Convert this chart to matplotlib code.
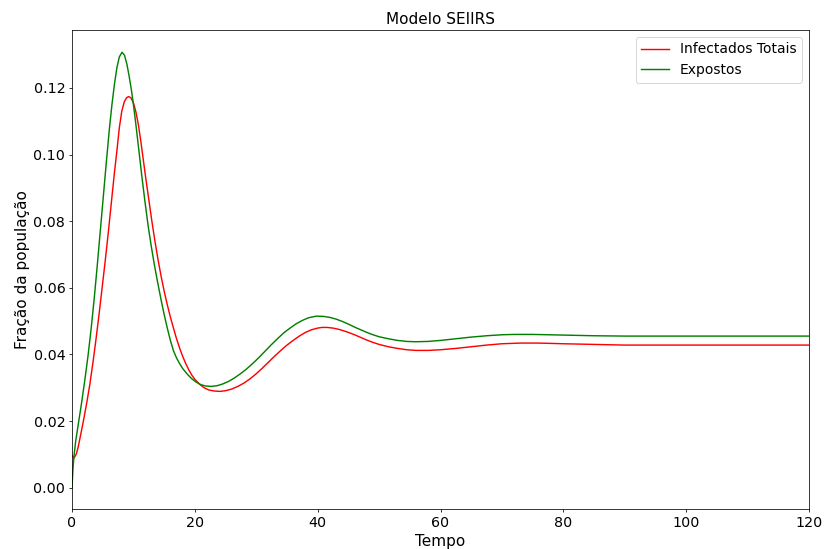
import matplotlib
matplotlib.use("Agg")
import matplotlib.pyplot as plt

# Time points and compartment fractions (SEIIRS model)
t_infected = [0, 0.33, 0.7, 1.0, 1.4, 1.85, 2.4, 2.9, 3.4, 3.9, 4.4, 4.9,
              5.4, 5.9, 6.4, 6.9, 7.3, 7.7, 8.1, 8.5, 8.9, 9.23, 9.6, 10.0,
              10.4, 10.8, 11.2, 11.6, 12.0, 12.5, 13.0, 13.5, 14.0, 14.5,
              15.0, 15.5, 16.0, 16.5, 17.0, 17.5, 18.0, 18.5, 19.0, 19.5,
              20.0, 20.8, 21.5, 22.3, 23.2, 24.1, 25.0, 26.0, 27.0, 28.0,
              29.0, 30.0, 31.0, 32.0, 33.0, 34.0, 35.0, 36.0, 37.0, 38.0,
              39.0, 40.0, 40.7, 41.5, 42.5, 43.5, 44.7, 46.0, 47.0, 48.0,
              49.0, 50.0, 51.5, 53.0, 54.5, 56.0, 58.0, 60.0, 62.5, 65.0,
              67.5, 70.0, 73.0, 76.0, 80.0, 85.0, 90.0, 100.0, 120.0]
infectados_totais = [0.0096, 0.0089, 0.0101, 0.0122, 0.0158, 0.0200, 0.0255,
                     0.0310, 0.0375, 0.0445, 0.0520, 0.0600, 0.0680, 0.0765,
                     0.0855, 0.0945, 0.1010, 0.1080, 0.1130, 0.1158, 0.1171,
                     0.1174, 0.1170, 0.1155, 0.1128, 0.1090, 0.1040, 0.0985,
                     0.0930, 0.0865, 0.0800, 0.0740, 0.0685, 0.0635, 0.0590,
                     0.0550, 0.0513, 0.0480, 0.0448, 0.0420, 0.0395, 0.0373,
                     0.0354, 0.0338, 0.0325, 0.0310, 0.0300, 0.0293, 0.0290,
                     0.0289, 0.0291, 0.0296, 0.0304, 0.0314, 0.0327, 0.0342,
                     0.0359, 0.0377, 0.0395, 0.0412, 0.0428, 0.0442, 0.0455,
                     0.0466, 0.0474, 0.0479, 0.0481, 0.0481, 0.0479, 0.0475,
                     0.0468, 0.0459, 0.0451, 0.0443, 0.0436, 0.0430, 0.0423,
                     0.0418, 0.0414, 0.0412, 0.0412, 0.0414, 0.0418, 0.0423,
                     0.0428, 0.0432, 0.0434, 0.0434, 0.0432, 0.0430, 0.0428,
                     0.0428, 0.0428]

t_exposed = [0, 0.15, 0.3, 0.6, 1.1, 1.6, 2.1, 2.6, 3.1, 3.6, 4.1, 4.6, 5.1,
             5.6, 6.1, 6.5, 6.9, 7.3, 7.7, 8.14, 8.55, 8.95, 9.3, 9.66, 10.0,
             10.4, 10.9, 11.4, 11.9, 12.4, 12.9, 13.4, 13.9, 14.5, 15.0,
             15.5, 16.0, 16.5, 17.0, 17.5, 18.0, 18.8, 19.5, 20.2, 21.0,
             21.8, 22.7, 23.6, 24.5, 25.5, 26.5, 27.5, 28.4, 29.5, 30.5,
             31.5, 32.5, 33.5, 34.5, 35.5, 36.5, 37.5, 38.5, 39.8, 41.0,
             42.0, 43.0, 44.0, 45.0, 46.0, 47.0, 48.0, 49.0, 50.0, 51.5,
             53.0, 54.5, 56.0, 58.0, 60.0, 62.5, 65.0, 67.5, 70.0, 72.0,
             75.0, 80.0, 85.0, 90.0, 100.0, 120.0]
expostos = [0.0000, 0.0055, 0.0092, 0.0140, 0.0200, 0.0260, 0.0325, 0.0395,
            0.0475, 0.0565, 0.0665, 0.0770, 0.0875, 0.0980, 0.1080, 0.1150,
            0.1210, 0.1260, 0.1293, 0.1307, 0.1298, 0.1270, 0.1235, 0.1195,
            0.1150, 0.1090, 0.1010, 0.0930, 0.0855, 0.0785, 0.0725, 0.0670,
            0.0620, 0.0564, 0.0520, 0.0480, 0.0443, 0.0412, 0.0390, 0.0373,
            0.0358, 0.0340, 0.0327, 0.0317, 0.0309, 0.0305, 0.0304, 0.0306,
            0.0311, 0.0319, 0.0330, 0.0343, 0.0356, 0.0374, 0.0392, 0.0411,
            0.0430, 0.0448, 0.0465, 0.0479, 0.0492, 0.0502, 0.0510, 0.0515,
            0.0514, 0.0511, 0.0506, 0.0499, 0.0491, 0.0482, 0.0474, 0.0466,
            0.0459, 0.0453, 0.0447, 0.0442, 0.0439, 0.0438, 0.0439, 0.0442,
            0.0447, 0.0452, 0.0456, 0.0459, 0.0460, 0.0460, 0.0458, 0.0456,
            0.0455, 0.0455, 0.0455]

fig = plt.figure(figsize=(12, 7.995), dpi=68.67)
ax = fig.add_axes([0.0874, 0.072, 0.8944, 0.8734])

ax.plot(t_infected, infectados_totais, color="red", label="Infectados Totais")
ax.plot(t_exposed, expostos, color="green", label="Expostos")

ax.set_xlim(0, 120)
ax.set_ylim(-0.00655, 0.1374)
ax.set_title("Modelo SEIIRS", fontsize=16)
ax.set_xlabel("Tempo", fontsize=16)
ax.set_ylabel("Fração da população", fontsize=16)
ax.tick_params(labelsize=15)
ax.legend(loc="upper right", fontsize=14.5)

fig.savefig("out.png", dpi=68.67)
